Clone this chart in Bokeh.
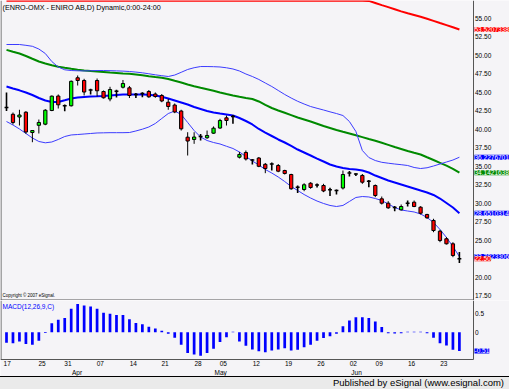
from bokeh.plotting import figure
from bokeh.models import (Range1d, LinearAxis, FixedTicker, NumeralTickFormatter, Label,
                          Div, Span)
from bokeh.layouts import column
from bokeh.embed import file_html
from bokeh.resources import INLINE

# ---------------- data ----------------
opens = [42.96, 42.04, 41.67, 42.32, 39.57, 40.55, 40.70, 42.55, 44.51, 43.20,
         43.19, 46.98, 46.61, 45.33, 46.61, 45.12, 44.11, 45.16, 45.70, 45.62,
         44.72, 44.85, 45.12, 44.78, 44.58, 43.67, 43.29, 42.48, 38.94, 38.63,
         39.03, 38.86, 39.48, 40.18, 41.56, 41.74, 36.23, 36.87, 35.85, 36.12,
         35.27, 35.31, 35.11, 34.43, 33.89, 32.17, 31.86, 32.71, 32.47, 32.40,
         31.82, 31.73, 32.06, 34.09, 33.96, 33.76, 32.98, 32.40, 30.60, 30.01,
         29.42, 29.11, 30.01, 30.14, 29.47, 28.48, 27.67, 26.22, 25.19, 24.51,
         22.50]
highs = [44.99, 42.28, 42.65, 42.46, 39.91, 41.33, 42.73, 44.58, 44.72, 43.36,
         46.61, 47.29, 46.84, 45.49, 46.88, 45.26, 45.76, 45.35, 46.68, 45.87,
         44.92, 45.03, 45.32, 44.99, 44.78, 44.13, 43.50, 42.65, 39.61, 39.61,
         39.37, 39.84, 40.39, 41.43, 41.87, 41.94, 36.94, 37.14, 35.99, 36.26,
         35.45, 35.51, 35.31, 34.53, 33.99, 32.40, 32.71, 32.85, 32.67, 32.63,
         32.09, 31.86, 34.43, 34.36, 34.07, 33.96, 33.15, 32.54, 30.91, 30.28,
         29.63, 29.83, 30.37, 30.37, 29.60, 28.57, 27.90, 26.41, 25.41, 24.73,
         23.40]
lows = [42.48, 40.66, 40.52, 39.40, 38.26, 39.44, 40.56, 42.46, 42.82, 42.46,
        43.09, 45.93, 44.58, 44.72, 44.45, 44.17, 43.80, 44.31, 45.53, 44.24,
        44.24, 44.35, 44.27, 44.27, 43.67, 42.65, 42.19, 39.84, 36.46, 38.04,
        38.49, 38.72, 39.40, 40.07, 40.52, 40.75, 36.06, 35.78, 35.24, 34.88,
        34.07, 34.43, 34.20, 33.89, 31.82, 31.39, 31.63, 31.96, 32.13, 31.50,
        30.98, 31.18, 31.86, 33.62, 33.69, 32.63, 32.17, 30.82, 29.83, 29.25,
        28.92, 29.02, 29.56, 29.47, 28.48, 27.90, 26.08, 24.73, 24.42, 22.70,
        21.91]
closes = [42.96, 40.93, 41.94, 39.64, 39.84, 40.93, 42.59, 44.49, 43.32, 43.20,
          46.50, 46.61, 45.05, 45.33, 45.22, 44.27, 45.39, 45.16, 46.20, 44.58,
          44.72, 44.85, 44.40, 44.45, 43.84, 43.09, 42.35, 40.07, 38.42, 38.96,
          39.03, 39.17, 40.16, 41.20, 41.20, 41.74, 36.60, 35.99, 35.85, 35.00,
          34.70, 35.31, 34.34, 34.03, 31.96, 32.17, 32.50, 32.13, 32.47, 31.66,
          31.82, 31.73, 33.89, 34.09, 33.96, 32.85, 32.98, 31.05, 30.01, 29.38,
          29.42, 29.56, 30.01, 29.56, 28.65, 28.03, 26.31, 24.96, 24.51, 22.93,
          22.50]

bb_mid = [45.80, 45.53, 45.28, 44.99, 44.65, 44.24, 43.90, 43.70, 43.70, 43.93,
          44.17, 44.31, 44.38, 44.45, 44.47, 44.51, 44.58, 44.65, 44.72, 44.72,
          44.72, 44.72, 44.68, 44.58, 44.40, 44.17, 43.90, 43.63, 43.36, 43.02,
          42.75, 42.48, 42.28, 42.14, 42.01, 41.87, 41.54, 41.13, 40.66, 40.05,
          39.57, 39.10, 38.63, 38.22, 37.75, 37.27, 36.87, 36.46, 36.05, 35.65,
          35.24, 34.97, 34.77, 34.63, 34.57, 34.43, 34.16, 33.75, 33.42, 33.08,
          32.81, 32.54, 32.27, 32.00, 31.72, 31.45, 31.12, 30.64, 30.03, 29.42,
          28.6510314]
bb_upper = [51.48, 51.48, 51.48, 51.37, 51.24, 50.87, 50.26, 49.18, 48.44, 48.06,
            47.96, 47.92, 47.91, 47.92, 47.96, 47.96, 47.94, 47.91, 47.88, 47.83,
            47.75, 47.65, 47.52, 47.38, 47.26, 47.15, 47.35, 47.72, 48.10, 48.34,
            48.50, 48.50, 48.48, 48.44, 48.33, 48.17, 47.90, 47.49, 47.15, 46.75,
            46.27, 45.80, 45.26, 44.72, 44.24, 43.80, 43.43, 43.09, 42.85, 42.62,
            42.37, 42.14, 41.87, 41.06, 39.71, 37.14, 36.19, 35.78, 35.54, 35.42,
            35.31, 35.22, 35.11, 34.84, 34.70, 34.80, 35.04, 35.31, 35.58, 35.85,
            36.2276701]
bb_lower = [41.06, 40.59, 40.05, 39.44, 38.83, 38.36, 38.18, 38.29, 38.63, 39.03,
            39.24, 39.30, 39.37, 39.44, 39.51, 39.53, 39.55, 39.55, 39.55, 39.57,
            39.78, 40.02, 40.32, 40.79, 41.47, 42.14, 42.48, 42.01, 40.93, 39.84,
            38.96, 38.49, 38.22, 38.02, 37.71, 37.41, 36.94, 36.33, 35.72, 35.18,
            34.57, 34.09, 33.55, 32.94, 32.27, 31.73, 31.18, 30.71, 30.30, 29.97,
            29.70, 29.56, 29.70, 30.24, 30.78, 30.91, 30.85, 30.64, 30.37, 29.90,
            29.43, 29.09, 28.95, 28.82, 28.55, 28.07, 27.40, 26.45, 25.37, 24.15,
            22.7823306]
ma_green = [50.76, 50.49, 50.26, 49.93, 49.55, 49.18, 48.91, 48.68, 48.48, 48.33,
            48.19, 48.07, 47.96, 47.90, 47.83, 47.76, 47.69, 47.63, 47.57, 47.52,
            47.42, 47.31, 47.19, 47.08, 46.98, 46.81, 46.57, 46.34, 46.07, 45.83,
            45.62, 45.42, 45.22, 44.99, 44.78, 44.58, 44.40, 44.24, 44.11, 43.77,
            43.30, 42.89, 42.55, 42.24, 41.93, 41.60, 41.33, 41.06, 40.76, 40.45,
            40.18, 39.91, 39.67, 39.44, 39.19, 38.95, 38.69, 38.45, 38.18, 37.90,
            37.61, 37.34, 37.07, 36.83, 36.60, 36.22, 35.85, 35.47, 35.08, 34.66,
            34.1421638]
ma_red = [57.40] * 56 + [57.38, 57.10, 56.81, 56.54, 56.26, 55.97, 55.70, 55.47,
                         55.23, 54.96, 54.68, 54.39, 54.11, 53.82, 53.5207338]

macd = [-0.29, -0.30, -0.25, -0.32, -0.34, -0.23, -0.02, 0.245, 0.34, 0.39,
        0.64, 0.77, 0.73, 0.70, 0.64, 0.53, 0.50, 0.47, 0.47, 0.35,
        0.25, 0.22, 0.15, 0.10, 0.04, -0.045, -0.15, -0.34, -0.57, -0.61,
        -0.64, -0.57, -0.45, -0.27, -0.14, 0.01, -0.25, -0.37, -0.47, -0.52,
        -0.545, -0.50, -0.47, -0.44, -0.50, -0.48, -0.41, -0.345, -0.23, -0.16,
        -0.11, -0.045, 0.16, 0.32, 0.41, 0.41, 0.39, 0.29, 0.14, -0.03,
        -0.035, -0.03, 0.015, 0.015, 0.015, -0.03, -0.15, -0.30, -0.36, -0.48,
        -0.51]

price_ticks = [17.5, 20.0, 22.5, 25.0, 27.5, 30.0, 32.5, 35.0, 37.5, 40.0,
               42.5, 45.0, 47.5, 50.0, 52.5, 55.0]
macd_ticks = [0.0, 0.5]
day_labels = ["17", "25", "31", "07", "14", "21", "28", "05", "12", "19",
              "26", "02", "09", "16", "23"]
day_pos = [0.1, 5.5, 9.5, 14.5, 19.6, 24.5, 29.6, 33.5, 38.6, 43.6,
           48.6, 53.6, 57.6, 62.6, 67.6]
month_labels = ["Apr", "May", "Jun"]
month_pos = [10.9, 33.1, 54.1]

title_text = "(ENRO-OMX - ENIRO AB,D) Dynamic,0:00-24:00"
macd_title = "MACD(12,26,9,C)"
copyright_text = "Copyright \u00a9 2007 eSignal."
footer_text = "Published by eSignal (www.esignal.com)"

# ---------------- layout constants ----------------
W = 509
MAIN_H = 300
MACD_H = 76
FOOT_H = 13
BG = "#f5f4f7"
FONT = "Liberation Sans"
FS = "6.5px"
FRAME = "#555555"
PX = 6.47                      # pixels per bar
X0 = -6.0 / PX                 # left edge of the canvas in bar units
X1 = (W - 6.0) / PX            # right edge
AXIS_X = (472.5 - 6.0) / PX    # price-axis line
LEFT_X = X0 + 0.5 / PX
MACD_PX = 36.7                 # pixels per MACD unit
MACD_TOP = 31.7 / MACD_PX
MACD_LOW = -(59 - 31.7) / MACD_PX          # bottom of the MACD pane
MACD_MIN = -(MACD_H - 31.7) / MACD_PX      # bottom of the canvas strip

n = len(closes)
xs = list(range(n))
x_rng = Range1d(X0, X1)
y_main = Range1d(16.84, 57.436)
y_macd = Range1d(MACD_MIN, MACD_TOP)

common = dict(width=W, x_range=x_rng, output_backend="svg", toolbar_location=None,
              x_axis_location=None, y_axis_location=None,
              min_border_left=0, min_border_right=0, min_border_top=0, min_border_bottom=0,
              background_fill_color=BG, border_fill_color=BG,
              outline_line_color=None)


def price_axis(ticks, fmt, bounds):
    return LinearAxis(ticker=FixedTicker(ticks=ticks), formatter=NumeralTickFormatter(format=fmt),
                      fixed_location=AXIS_X, bounds=bounds,
                      major_tick_out=0, major_tick_in=0, minor_tick_out=0, minor_tick_in=0,
                      major_label_standoff=2, axis_line_color=FRAME,
                      major_label_text_font=FONT, major_label_text_font_size=FS,
                      major_label_text_color="black")


def tag(fig, yv, txt, bg):
    fig.add_layout(Label(x=AXIS_X, y=yv, x_offset=1.5, text=txt, text_font=FONT,
                         text_font_size=FS, text_color="white", text_baseline="middle",
                         text_align="left", background_fill_color=bg, padding=0))


# ---------------- main price panel ----------------
p = figure(height=MAIN_H, y_range=y_main, **common)
p.grid.grid_line_color = None

p.line(xs, ma_red, line_color="#ff0000", line_width=2)
p.line(xs, ma_green, line_color="#008a00", line_width=2)
p.line(xs, bb_upper, line_color="#3c3cff", line_width=1)
p.line(xs, bb_lower, line_color="#3c3cff", line_width=1)
p.line(xs, bb_mid, line_color="#0000ff", line_width=2)

up = [i for i in xs if closes[i] > opens[i]]
dn = [i for i in xs if closes[i] < opens[i]]
dj = [i for i in xs if closes[i] == opens[i]]
body = [i for i in xs if closes[i] != opens[i]]

p.segment(x0=body, x1=body, y0=[lows[i] for i in body], y1=[highs[i] for i in body],
          line_color="black", line_width=1)
p.segment(x0=dj, x1=dj, y0=[lows[i] for i in dj], y1=[highs[i] for i in dj],
          line_color="black", line_width=1.6)
p.vbar(x=up, bottom=[opens[i] for i in up], top=[closes[i] for i in up], width=0.5,
       fill_color="#00ff00", line_color="black", line_width=1)
p.vbar(x=dn, bottom=[closes[i] for i in dn], top=[opens[i] for i in dn], width=0.5,
       fill_color="#ff0000", line_color="black", line_width=1)
p.segment(x0=[i - 0.3 for i in dj], x1=[i + 0.3 for i in dj],
          y0=[closes[i] for i in dj], y1=[closes[i] for i in dj],
          line_color="black", line_width=1.5)

p.add_layout(Span(location=LEFT_X, dimension="height", line_color=FRAME, line_width=1))
sep_y = y_main.start + 0.5 / 7.39
p.segment(x0=[X0], x1=[AXIS_X], y0=[sep_y], y1=[sep_y], line_color=FRAME, line_width=1)
p.add_layout(price_axis(price_ticks, "0.00", (y_main.start, y_main.end)), "right")

tag(p, ma_red[-1], f"{ma_red[-1]:.7f}", "#ff0000")
tag(p, bb_upper[-1], f"{bb_upper[-1]:.7f}", "#0000ff")
tag(p, ma_green[-1], f"{ma_green[-1]:.7f}", "#008a00")
tag(p, bb_mid[-1], f"{bb_mid[-1]:.7f}", "#0000ff")
tag(p, bb_lower[-1], f"{bb_lower[-1]:.7f}", "#0000ff")
tag(p, closes[-1], f"{closes[-1]:.2f}", "#ff0000")

p.add_layout(Label(x=X0, y=y_main.end, x_offset=2, y_offset=-2, text=title_text,
                   text_font=FONT, text_font_size="7.2px", text_color="black",
                   text_baseline="top", text_align="left"))
p.add_layout(Label(x=X0, y=y_main.start, x_offset=2, y_offset=3, text=copyright_text,
                   text_font=FONT, text_font_size="4.5px", text_color="black",
                   text_baseline="bottom", text_align="left"))

# ---------------- MACD panel (with the date scale under it) ----------------
m = figure(height=MACD_H, y_range=y_macd, **common)
m.grid.grid_line_color = None
m.vbar(x=xs, top=macd, bottom=0, width=0.42, fill_color="#0000ff", line_color=None)

m.segment(x0=[LEFT_X], x1=[LEFT_X], y0=[MACD_LOW], y1=[MACD_TOP],
          line_color=FRAME, line_width=1)
m.add_layout(price_axis(macd_ticks, "0.[0]", (MACD_LOW, MACD_TOP)), "right")
tag(m, macd[-1], f"{macd[-1]:.2f}", "#0000ff")

m.add_layout(Label(x=X0, y=MACD_TOP, x_offset=2, y_offset=-2, text=macd_title,
                   text_font=FONT, text_font_size=FS, text_color="#0000ff",
                   text_baseline="top", text_align="left"))

bot_y = MACD_LOW + 0.5 / MACD_PX
dax = LinearAxis(ticker=FixedTicker(ticks=day_pos), fixed_location=bot_y, bounds=(X0, AXIS_X),
                 major_label_overrides={pos: lab for pos, lab in zip(day_pos, day_labels)},
                 major_tick_out=0, major_tick_in=0, minor_tick_out=0, minor_tick_in=0,
                 major_label_standoff=2, axis_line_color=FRAME,
                 major_label_text_font=FONT, major_label_text_font_size=FS,
                 major_label_text_color="black")
m.add_layout(dax, "below")
month_y = MACD_LOW - 9.5 / MACD_PX
mox = LinearAxis(ticker=FixedTicker(ticks=month_pos), fixed_location=month_y,
                 major_label_overrides={pos: lab for pos, lab in zip(month_pos, month_labels)},
                 major_tick_out=0, major_tick_in=0, minor_tick_out=0, minor_tick_in=0,
                 major_label_standoff=0, axis_line_color=None,
                 major_label_text_font=FONT, major_label_text_font_size=FS,
                 major_label_text_color="black")
m.add_layout(mox, "below")

# ---------------- footer ----------------
foot = Div(text=footer_text, width=W, height=FOOT_H, margin=0,
           styles={"background-color": "#eaeaea", "border-top": "1px solid #000000",
                   "box-sizing": "border-box", "font-family": FONT, "font-size": "9.5px",
                   "line-height": "12px", "text-align": "right", "padding-right": "5px",
                   "color": "#000000", "overflow": "hidden"})

layout = column(p, m, foot, spacing=0)
open("out.html", "w").write(file_html(layout, INLINE))
